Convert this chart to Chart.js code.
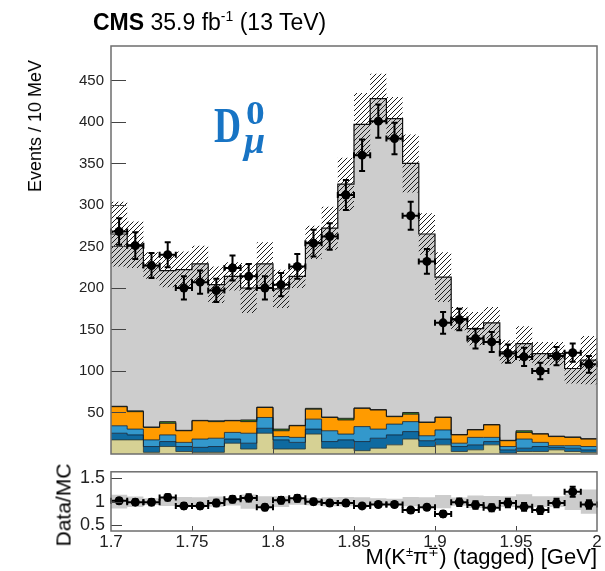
<!DOCTYPE html>
<html><head><meta charset="utf-8">
<script src="https://cdn.jsdelivr.net/npm/chart.js@4/dist/chart.umd.min.js"></script>
<style>
html,body{margin:0;padding:0;background:#fff;}
#wrap{position:relative;width:605px;height:571px;overflow:hidden;font-family:"Liberation Sans",Arial,sans-serif;}
canvas{position:absolute;left:0;}
#c1{top:0}
#c2{top:455px}
.t{position:absolute;white-space:nowrap;color:#000;line-height:1;}
</style></head><body>
<div id="wrap">
<canvas id="c1" width="605" height="470"></canvas>
<canvas id="c2" width="605" height="116"></canvas>
<div class="t" style="left:93px;top:11px;font-size:23px;"><b>CMS</b> 35.9 fb<span style="font-size:14px;position:relative;top:-9px;">-1</span> (13 TeV)</div>
<div class="t" style="left:35px;top:126px;font-size:18px;transform:translate(-50%,-50%) rotate(-90deg);">Events / 10 MeV</div>
<div class="t" style="left:63px;top:505px;font-size:21px;transform:translate(-50%,-50%) rotate(-90deg);">Data/MC</div>
<div class="t" style="right:8px;top:546px;font-size:22px;">M(K<span style="font-size:13px;position:relative;top:-8px;">±</span>π<span style="font-size:13px;position:relative;top:-8px;">∓</span>) (tagged) [GeV]</div>
<div class="t" style="left:214px;top:100px;font-family:'Liberation Serif',serif;font-weight:bold;color:#1874c4;font-size:50px;transform:scaleX(0.75);transform-origin:left top;">D</div>
<div class="t" style="left:246px;top:96px;font-family:'Liberation Serif',serif;font-weight:bold;color:#1874c4;font-size:34px;transform:scaleX(1.1);transform-origin:left top;">0</div>
<div class="t" style="left:244px;top:121px;font-family:'Liberation Serif',serif;font-weight:bold;font-style:italic;color:#1874c4;font-size:38px;">μ</div>
</div>
<script>
// ---------- data ----------
const binEdges = [1.70,1.71,1.72,1.73,1.74,1.75,1.76,1.77,1.78,1.79,1.80,1.81,1.82,1.83,1.84,1.85,1.86,1.87,1.88,1.89,1.90,1.91,1.92,1.93,1.94,1.95,1.96,1.97,1.98,1.99,2.00];
const binCenters = [1.705,1.715,1.725,1.735,1.745,1.755,1.765,1.775,1.785,1.795,1.805,1.815,1.825,1.835,1.845,1.855,1.865,1.875,1.885,1.895,1.905,1.915,1.925,1.935,1.945,1.955,1.965,1.975,1.985,1.995];
const dataVals = [268,251,227,240,200,207,197,224,214,200,204,226,254,262,312,360,401,380,287,232,158,162,139,135,121,117,100,118,122,108];
const dataErr  = [16,16,15,15,14,14,14,15,15,14,14,15,16,16,18,19,20,19,17,15,13,13,12,12,11,11,10,11,11,10];
const mcTotal  = [265,252,227,221,222,229,204,214,200,229,199,214,255,272,325,397,428,404,350,265,213,163,151,158,123,133,121,121,103,113];
const mcUnc    = [39,28,16,20,22,22,22,17,30,26,23,14,20,26,32,38,30,26,35,25,30,14,20,19,14,21,14,14,18,29];
const bkgKhaki = [17,17,2,9,3,2,2,13,6,25,6,6,24,7,7,4,7,11,18,9,11,3,5,11,1,3,3,5,3,2];
const bkgDark  = [8,6,7,6,6,6,7,5,7,6,11,8,6,8,10,11,12,12,9,7,7,6,6,4,4,4,6,3,4,3];
const bkgLight = [9,7,8,8,5,10,10,8,12,13,4,6,12,13,7,18,11,13,12,6,11,4,9,5,4,11,5,2,3,4];
const bkgOrange= [23,21,15,14,14,22,20,14,14,12,7,14,12,16,17,22,23,9,9,16,15,10,9,15,7,8,10,11,10,9];
const bkgGreen = [0.5,1,0.5,2,0.5,0.5,1,0.5,2,0.5,2,0.5,1,0.5,2,0.5,0.5,0.5,2,0.5,0.5,0.5,0.5,0.5,0.5,2,0.5,0.5,0.5,0.5];
const ratioVals= [1.02,0.99,0.99,1.09,0.91,0.91,0.97,1.05,1.08,0.88,1.03,1.07,1.00,0.97,0.97,0.91,0.94,0.94,0.82,0.88,0.74,0.99,0.93,0.87,0.97,0.89,0.82,0.97,1.21,0.94];
const mainYTicks = [50,100,150,200,250,300,350,400,450];
const xTicks = [1.7,1.75,1.8,1.85,1.9,1.95,2.0];
const ratioYTicks = [0.5,1,1.5];

// ---------- helpers ----------
const cumulate = (arrs) => { const out=[]; let run = arrs[0].map(()=>0); arrs.forEach(a=>{ run = run.map((v,i)=>v+a[i]); out.push(run); }); return out; };
const stepPts = (vals) => binEdges.map((e,i)=>({x:e, y: vals[Math.min(i, vals.length-1)]}));
const [cK, cD, cL, cO, cG] = cumulate([bkgKhaki,bkgDark,bkgLight,bkgOrange,bkgGreen]);
const bandLo = mcTotal.map((v,i)=>v-mcUnc[i]);
const bandHi = mcTotal.map((v,i)=>v+mcUnc[i]);
const rBandLo = mcTotal.map((v,i)=>1-mcUnc[i]/v);
const rBandHi = mcTotal.map((v,i)=>1+mcUnc[i]/v);
const ratioErr = dataErr.map((e,i)=>e/mcTotal[i]);

function hatchPattern(ctx){
  const s=5, c=document.createElement('canvas'); c.width=s; c.height=s;
  const g=c.getContext('2d'); g.strokeStyle='#1e1e1e'; g.lineWidth=1;
  g.beginPath(); g.moveTo(0,s); g.lineTo(s,0); g.moveTo(-1,1); g.lineTo(1,-1); g.moveTo(s-1,s+1); g.lineTo(s+1,s-1); g.stroke();
  return ctx.createPattern(c,'repeat');
}

const errPlugin = {
  id:'errbars',
  afterDatasetsDraw(chart){
    const ctx=chart.ctx, xs=chart.scales.x, ys=chart.scales.y;
    chart.data.datasets.forEach(ds=>{
      if(!ds.errY) return;
      ctx.save(); ctx.strokeStyle='#000'; ctx.lineWidth=2;
      ds.data.forEach((p,i)=>{
        const cx=xs.getPixelForValue(p.x), cy=ys.getPixelForValue(p.y);
        const xl=xs.getPixelForValue(p.x-ds.errX), xr=xs.getPixelForValue(p.x+ds.errX);
        const yt=ys.getPixelForValue(p.y+ds.errY[i]), yb=ys.getPixelForValue(p.y-ds.errY[i]);
        const c=ds.capSize;
        ctx.beginPath();
        ctx.moveTo(xl,cy); ctx.lineTo(xr,cy);
        ctx.moveTo(cx,yt); ctx.lineTo(cx,yb);
        ctx.moveTo(cx-c,yt); ctx.lineTo(cx+c,yt);
        ctx.moveTo(cx-c,yb); ctx.lineTo(cx+c,yb);
        ctx.moveTo(xl,cy-c); ctx.lineTo(xl,cy+c);
        ctx.moveTo(xr,cy-c); ctx.lineTo(xr,cy+c);
        ctx.stroke();
      });
      ctx.restore();
    });
  }
};
const framePlugin = {
  id:'frame',
  afterDatasetsDraw(chart, args, o){
    const ctx=chart.ctx, a=chart.chartArea, xs=chart.scales.x, ys=chart.scales.y;
    ctx.save(); ctx.strokeStyle='#444'; ctx.lineWidth=1;
    o.yTicks.forEach(v=>{ const y=Math.round(ys.getPixelForValue(v))+0.5; ctx.beginPath(); ctx.moveTo(a.left,y); ctx.lineTo(a.left+o.yLen,y); ctx.stroke(); });
    o.xTicks.forEach(v=>{ const x=Math.round(xs.getPixelForValue(v))+0.5; ctx.beginPath(); ctx.moveTo(x,a.bottom); ctx.lineTo(x,a.bottom-o.xLen); ctx.stroke(); });
    ctx.strokeStyle='#6e6e6e'; ctx.lineWidth=1.5;
    ctx.strokeRect(a.left,a.top,a.right-a.left,a.bottom-a.top);
    ctx.restore();
  }
};

const lineDs = (vals, fill, bg, border, bw, order) => ({
  type:'line', data: stepPts(vals), stepped:true, fill: fill, backgroundColor: bg,
  borderColor: border, borderWidth: bw, pointRadius:0, order: order
});

const ctx1 = document.getElementById('c1').getContext('2d');
new Chart(ctx1, {
  type:'line',
  data:{ datasets:[
    lineDs(cK, 'origin', '#d6d194', 'rgba(40,50,40,0.75)', 1, 10),
    lineDs(cD, '-1', '#0f6aa0', 'rgba(10,30,50,0.8)', 1, 9),
    lineDs(cL, '-1', '#3398cc', 'rgba(10,30,50,0.8)', 1, 8),
    lineDs(cO, '-1', '#ff9b00', 'rgba(20,20,20,0.85)', 1, 7),
    lineDs(cG, '-1', '#3d8a20', 'rgba(20,20,20,0.9)', 1, 6),
    lineDs(mcTotal, '-1', '#cdcdcd', '#111', 1.2, 5),
    lineDs(bandLo, false, 'rgba(0,0,0,0)', 'rgba(0,0,0,0)', 0, 4),
    lineDs(bandHi, '-1', hatchPattern(ctx1), 'rgba(0,0,0,0)', 0, 3),
    { type:'line', data: binCenters.map((x,i)=>({x, y:dataVals[i]})), showLine:false,
      pointRadius:4.5, pointBackgroundColor:'#000', pointBorderWidth:0, order:1,
      errY: dataErr, errX: 0.005, capSize: 3 }
  ]},
  options:{
    responsive:false, animation:false, events:[],
    layout:{ padding:{ top:46, right:8, bottom:13, left:0 } },
    plugins:{ legend:{display:false}, tooltip:{enabled:false}, filler:{drawTime:'beforeDatasetsDraw'},
      frame:{ yTicks: mainYTicks, xTicks: xTicks.slice(1,-1), yLen:15, xLen:12 } },
    scales:{
      x:{ type:'linear', min:1.7, max:2.0, display:false },
      y:{ type:'linear', min:0, max:491.5,
          afterBuildTicks: s => { s.ticks = mainYTicks.map(v=>({value:v})); },
          afterFit: s => { s.width = 111; },
          grid:{display:false, drawTicks:false}, border:{display:false},
          ticks:{ padding:7, color:'#222', font:{family:'"Liberation Sans", Arial, sans-serif', size:15} } }
    }
  },
  plugins:[errPlugin, framePlugin]
});

const ctx2 = document.getElementById('c2').getContext('2d');
new Chart(ctx2, {
  type:'line',
  data:{ datasets:[
    lineDs(rBandLo, false, 'rgba(0,0,0,0)', 'rgba(0,0,0,0)', 0, 3),
    lineDs(rBandHi, '-1', '#cccccc', 'rgba(0,0,0,0)', 0, 2),
    { type:'line', data: binCenters.map((x,i)=>({x, y:ratioVals[i]})), showLine:false,
      pointRadius:4.5, pointBackgroundColor:'#000', pointBorderWidth:0, order:1,
      errY: ratioErr, errX: 0.005, capSize: 3 }
  ]},
  options:{
    responsive:false, animation:false, events:[],
    layout:{ padding:{ top:8, right:8, bottom:0, left:0 } },
    plugins:{ legend:{display:false}, tooltip:{enabled:false}, filler:{drawTime:'beforeDatasetsDraw'},
      frame:{ yTicks: ratioYTicks, xTicks: xTicks.slice(1,-1), yLen:11, xLen:5 } },
    scales:{
      x:{ type:'linear', min:1.7, max:2.0,
          afterBuildTicks: s => { s.ticks = xTicks.map(v=>({value:v})); },
          afterFit: s => { s.height = 40; },
          grid:{display:false, drawTicks:false}, border:{display:false},
          ticks:{ padding:1, color:'#222', maxRotation:0, autoSkip:false,
                  callback: v => String(Number(v.toFixed(2))),
                  font:{family:'"Liberation Sans", Arial, sans-serif', size:17} } },
      y:{ type:'linear', min:0.376, max:1.635,
          afterBuildTicks: s => { s.ticks = ratioYTicks.map(v=>({value:v})); },
          afterFit: s => { s.width = 111; },
          grid:{display:false, drawTicks:false}, border:{display:false},
          ticks:{ padding:6, color:'#222', callback: v => String(v),
                  font:{family:'"Liberation Sans", Arial, sans-serif', size:18} } }
    }
  },
  plugins:[errPlugin, framePlugin]
});
</script>
</body></html>
